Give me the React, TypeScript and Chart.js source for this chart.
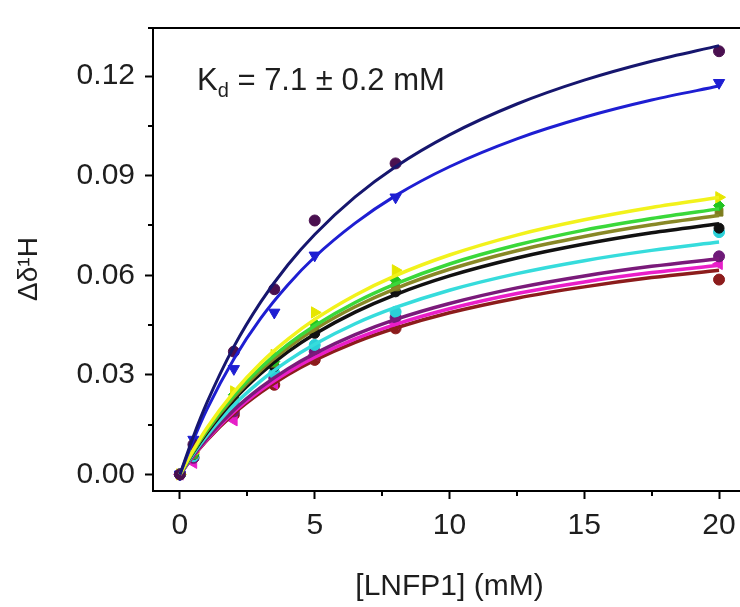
import React, { useEffect, useRef } from "react";
import { Chart, registerables } from "chart.js";

Chart.register(...registerables);

// ---- data ----
const pointX = [0, 0.5, 2, 3.5, 5, 8, 20];
const curveX = [0, 0.5, 1, 2, 3, 4, 5, 6.5, 8, 10, 12.5, 15, 17.5, 20];

const navyPoints = [0, 0.009, 0.037, 0.0558, 0.0765, 0.0937, 0.1275];
const bluePoints = [0, 0.0105, 0.0318, 0.0488, 0.066, 0.0835, 0.118];
const yellowPoints = [0, 0.0065, 0.025, 0.036, 0.0488, 0.0615, 0.0835];
const greenPoints = [0, 0.006, 0.024, 0.034, 0.0455, 0.0585, 0.081];
const olivePoints = [0, 0.006, 0.023, 0.0335, 0.044, 0.0565, 0.079];
const blackPoints = [0, 0.006, 0.0225, 0.0325, 0.0425, 0.055, 0.0742];
const cyanPoints = [0, 0.0055, 0.021, 0.0305, 0.039, 0.049, 0.073];
const purplePoints = [0, 0.005, 0.019, 0.029, 0.037, 0.0473, 0.0657];
const magentaPoints = [0, 0.0035, 0.0163, 0.0274, 0.036, 0.0455, 0.0634];
const darkredPoints = [0, 0.005, 0.018, 0.027, 0.0345, 0.044, 0.0587];

const navyCurve = [0, 0.0115, 0.0216, 0.0385, 0.052, 0.0631, 0.0723, 0.0836, 0.0927, 0.1023, 0.1116, 0.1188, 0.1245, 0.1292];
const blueCurve = [0, 0.0104, 0.0196, 0.0348, 0.0471, 0.0571, 0.0655, 0.0757, 0.084, 0.0927, 0.1011, 0.1076, 0.1128, 0.117];
const yellowCurve = [0, 0.0074, 0.014, 0.0248, 0.0336, 0.0407, 0.0467, 0.054, 0.0599, 0.0661, 0.0721, 0.0767, 0.0804, 0.0834];
const greenCurve = [0, 0.0071, 0.0134, 0.0238, 0.0322, 0.0391, 0.0448, 0.0518, 0.0574, 0.0634, 0.0691, 0.0736, 0.0771, 0.08];
const oliveCurve = [0, 0.007, 0.0131, 0.0232, 0.0314, 0.0381, 0.0437, 0.0505, 0.056, 0.0618, 0.0674, 0.0717, 0.0752, 0.078];
const blackCurve = [0, 0.0067, 0.0126, 0.0225, 0.0304, 0.0369, 0.0423, 0.0489, 0.0542, 0.0598, 0.0652, 0.0694, 0.0728, 0.0755];
const cyanCurve = [0, 0.0062, 0.0117, 0.0209, 0.0282, 0.0342, 0.0392, 0.0454, 0.0503, 0.0555, 0.0605, 0.0644, 0.0675, 0.07];
const purpleCurve = [0, 0.0058, 0.0109, 0.0194, 0.0262, 0.0318, 0.0364, 0.0421, 0.0467, 0.0515, 0.0562, 0.0598, 0.0627, 0.065];
const magentaCurve = [0, 0.0056, 0.0105, 0.0188, 0.0254, 0.0308, 0.0353, 0.0408, 0.0452, 0.0499, 0.0545, 0.058, 0.0608, 0.063];
const darkredCurve = [0, 0.0055, 0.0103, 0.0183, 0.0247, 0.03, 0.0344, 0.0398, 0.0441, 0.0487, 0.0531, 0.0565, 0.0593, 0.0615];

const xTicks = [0, 5, 10, 15, 20];
const xMinorTicks = [2.5, 7.5, 12.5, 17.5];
const yTicks = [0, 0.03, 0.06, 0.09, 0.12];
const yMinorTicks = [0.015, 0.045, 0.075, 0.105];

const xTitle = "[LNFP1] (mM)";
const yTitle = "Δδ¹H";
const kdMain = "K";
const kdSub = "d";
const kdRest = " = 7.1 ± 0.2 mM";

const FONT = '"Liberation Sans", Arial, Helvetica, sans-serif';
const TEXT = "#1e1e1e";

type Series = {
  line: string;
  marker: string;
  style: string;
  rotation: number;
  radius: number;
  width: number;
  points: number[];
  curve: number[];
};

const series: Series[] = [
  { line: "#16166e", marker: "#4a1050", style: "circle", rotation: 0, radius: 5.5, width: 3, points: navyPoints, curve: navyCurve },
  { line: "#1e1ed2", marker: "#1e1ed2", style: "triangle", rotation: 180, radius: 6.5, width: 3, points: bluePoints, curve: blueCurve },
  { line: "#f2f21c", marker: "#e6e600", style: "triangle", rotation: 90, radius: 6.5, width: 3.5, points: yellowPoints, curve: yellowCurve },
  { line: "#3ad83a", marker: "#22c422", style: "rectRot", rotation: 0, radius: 5.5, width: 3.5, points: greenPoints, curve: greenCurve },
  { line: "#888826", marker: "#7d7d1e", style: "rect", rotation: 0, radius: 5.5, width: 3.5, points: olivePoints, curve: oliveCurve },
  { line: "#111111", marker: "#111111", style: "circle", rotation: 0, radius: 5, width: 3.5, points: blackPoints, curve: blackCurve },
  { line: "#36dcdc", marker: "#2ad0d8", style: "circle", rotation: 0, radius: 5.5, width: 3.5, points: cyanPoints, curve: cyanCurve },
  { line: "#7a1a7a", marker: "#6e1a78", style: "circle", rotation: 0, radius: 5.5, width: 3.5, points: purplePoints, curve: purpleCurve },
  { line: "#ea1ec8", marker: "#e61ec8", style: "triangle", rotation: -90, radius: 6.5, width: 3.5, points: magentaPoints, curve: magentaCurve },
  { line: "#8c1c1c", marker: "#8c1c1c", style: "circle", rotation: 0, radius: 5.5, width: 3.5, points: darkredPoints, curve: darkredCurve },
];

const decorPlugin = {
  id: "decor",
  afterDraw(chart: any) {
    const { ctx, chartArea: a, scales } = chart;
    ctx.save();
    ctx.strokeStyle = "#000";
    ctx.lineWidth = 2;
    ctx.beginPath();
    ctx.moveTo(a.left - 5, a.top);
    ctx.lineTo(a.right + 5, a.top);
    for (const v of xMinorTicks) {
      const px = Math.round(scales.x.getPixelForValue(v));
      ctx.moveTo(px, a.bottom);
      ctx.lineTo(px, a.bottom + 5);
    }
    for (const v of yMinorTicks) {
      const py = Math.round(scales.y.getPixelForValue(v));
      ctx.moveTo(a.left, py);
      ctx.lineTo(a.left - 5, py);
    }
    ctx.stroke();

    // Kd annotation
    ctx.fillStyle = TEXT;
    ctx.textBaseline = "alphabetic";
    ctx.textAlign = "left";
    let x = a.left + 44;
    const y = a.top + 75 - 13;
    ctx.font = `31px ${FONT}`;
    ctx.fillText(kdMain, x, y);
    x += ctx.measureText(kdMain).width;
    ctx.font = `20px ${FONT}`;
    ctx.fillText(kdSub, x, y + 7);
    x += ctx.measureText(kdSub).width;
    ctx.font = `31px ${FONT}`;
    ctx.fillText(kdRest, x, y);

    // y title
    ctx.translate(29, 269);
    ctx.rotate(-Math.PI / 2);
    ctx.textAlign = "center";
    ctx.textBaseline = "middle";
    ctx.font = `28px ${FONT}`;
    ctx.fillText(yTitle, 0, 0);
    ctx.restore();
  },
};

export default function App() {
  const canvasRef = useRef<HTMLCanvasElement | null>(null);

  useEffect(() => {
    if (!canvasRef.current) return;

    const lineSets = series.map((s) => ({
      type: "line" as const,
      data: curveX.map((x, i) => ({ x, y: s.curve[i] })),
      borderColor: s.line,
      backgroundColor: s.line,
      borderWidth: s.width,
      pointRadius: 0,
      showLine: true,
      fill: false,
      cubicInterpolationMode: "monotone" as const,
    }));

    const pointSets = series.map((s) => ({
      type: "scatter" as const,
      data: pointX.map((x, i) => ({ x, y: s.points[i] })),
      borderColor: s.marker,
      backgroundColor: s.marker,
      borderWidth: 1,
      pointStyle: s.style,
      pointRotation: s.rotation,
      pointRadius: s.radius,
      showLine: false,
    }));

    const chart = new Chart(canvasRef.current, {
      type: "scatter",
      data: { datasets: [...lineSets, ...pointSets] as any },
      plugins: [decorPlugin],
      options: {
        animation: false,
        responsive: false,
        devicePixelRatio: 1,
        layout: { padding: { top: 14, right: 14, left: 0, bottom: 0 } },
        plugins: { legend: { display: false }, tooltip: { enabled: false } },
        scales: {
          x: {
            type: "linear",
            min: -1,
            max: 21,
            afterFit: (scale: any) => {
              scale.height = 116;
            },
            afterBuildTicks: (scale: any) => {
              scale.ticks = xTicks.map((v) => ({ value: v }));
            },
            ticks: {
              autoSkip: false,
              maxRotation: 0,
              padding: 9,
              color: TEXT,
              font: { family: FONT, size: 30 },
              callback: (v: any) => String(v),
            },
            grid: {
              display: true,
              drawOnChartArea: false,
              drawTicks: true,
              tickLength: 8,
              tickWidth: 2,
              tickColor: "#000",
            },
            border: { display: true, color: "#000", width: 2 },
            title: {
              display: true,
              text: xTitle,
              color: TEXT,
              font: { family: FONT, size: 30 },
              padding: { top: 0, bottom: 2 },
            },
          },
          y: {
            type: "linear",
            min: -0.005,
            max: 0.1345,
            afterFit: (scale: any) => {
              scale.width = 153;
            },
            afterBuildTicks: (scale: any) => {
              scale.ticks = yTicks.map((v) => ({ value: v }));
            },
            ticks: {
              autoSkip: false,
              padding: 10,
              color: TEXT,
              font: { family: FONT, size: 30 },
              callback: (v: any) => Number(v).toFixed(2),
            },
            grid: {
              display: true,
              drawOnChartArea: false,
              drawTicks: true,
              tickLength: 8,
              tickWidth: 2,
              tickColor: "#000",
            },
            border: { display: true, color: "#000", width: 2 },
          },
        },
      } as any,
    });

    return () => chart.destroy();
  }, []);

  return (
    <div
      style={{
        position: "fixed",
        left: 0,
        top: 0,
        width: 740,
        height: 607,
        overflow: "hidden",
        background: "#fff",
      }}
    >
      <canvas ref={canvasRef} width={760} height={607} style={{ display: "block" }} />
    </div>
  );
}
